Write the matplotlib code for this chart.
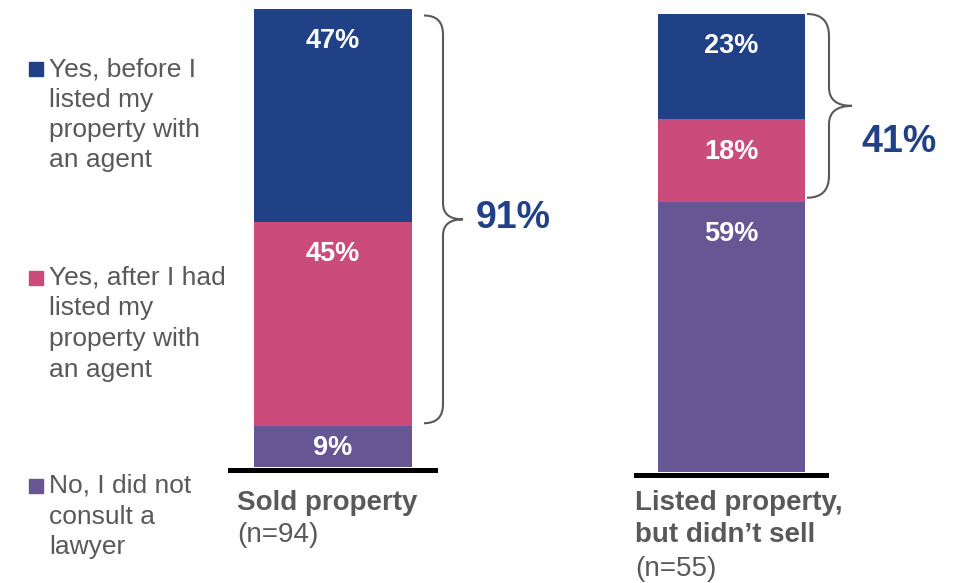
import matplotlib.pyplot as plt
from matplotlib.path import Path
from matplotlib.patches import PathPatch, Rectangle

plt.rcParams['font.family'] = ['Liberation Sans', 'DejaVu Sans']

# Survey shares (%) for each group
groups = [["Sold property"], ["Listed property,", "but didn\u2019t sell"]]
sample_sizes = ["(n=94)", "(n=55)"]
before_listing = [47, 23]
after_listing = [45, 18]
no_lawyer = [9, 59]
net_yes = [91, 41]

answer_labels = [
    ["Yes, before I", "listed my", "property with", "an agent"],
    ["Yes, after I had", "listed my", "property with", "an agent"],
    ["No, I did not", "consult a", "lawyer"],
]

BLUE = "#214187"
PINK = "#CB4C7A"
PURPLE = "#665794"
GREY = "#595959"

W, H = 955, 583
fig = plt.figure(figsize=(W / 100, H / 100), dpi=100)

# overlay in pixel units for legend, braces and captions
over = fig.add_axes([0, 0, 1, 1])
over.set_xlim(0, W)
over.set_ylim(H, 0)
over.axis('off')

# (left, right, baseline, px per %, bar width px)
layout = [(230, 435, 469.5, 4.53, 158), (636, 826, 474.5, 4.58, 147)]
ymax = 102

bar_axes = []
for i, (left, right, base, scale, bar_px) in enumerate(layout):
    height_px = (ymax + 0.55) * scale
    ax = fig.add_axes([left / W, (H - base) / H, (right - left) / W, height_px / H])
    half = (right - left) / bar_px / 2
    ax.set_xlim(-half, half)
    ax.set_ylim(-0.55, ymax)
    bottom = 0
    for values, color in [(no_lawyer, PURPLE), (after_listing, PINK), (before_listing, BLUE)]:
        v = values[i]
        ax.bar(0, v, width=1.0, bottom=bottom, color=color, clip_on=False)
        ylab = max(bottom + v - 6.4, bottom + v / 2 + 0.4)
        ax.text(0, ylab, f"{v}%", ha='center', va='center_baseline', color='white',
                fontsize=19.5, fontweight='bold')
        bottom += v
    for side in ['top', 'left', 'right']:
        ax.spines[side].set_visible(False)
    ax.spines['bottom'].set_linewidth(3.6)
    ax.spines['bottom'].set_color('black')
    ax.set_xticks([])
    ax.set_yticks([])
    ax.patch.set_alpha(0)
    bar_axes.append(ax)


def to_px(ax, y):
    return H - ax.transData.transform((0, y))[1]


def brace(x0, top, bot, w_end, w_tip):
    x1 = x0 + w_end
    x2 = x1 + w_tip
    mid = (top + bot) / 2
    r = w_end
    rt = w_tip * 0.8
    verts = [(x0, top), (x1, top), (x1, top + r),
             (x1, mid - rt), (x1, mid), (x2, mid),
             (x1, mid), (x1, mid + rt),
             (x1, bot - r), (x1, bot), (x0, bot)]
    codes = [Path.MOVETO, Path.CURVE3, Path.CURVE3,
             Path.LINETO, Path.CURVE3, Path.CURVE3,
             Path.CURVE3, Path.CURVE3,
             Path.LINETO, Path.CURVE3, Path.CURVE3]
    over.add_patch(PathPatch(Path(verts, codes), fill=False, edgecolor=GREY, lw=1.5))
    return x2, mid


# brace x start, end width, tip width, top/bottom inset, label offset
brace_style = [(424, 19, 20, (6, 3), (13, 9)), (807, 22, 23, (0, 4), (9, 46))]
for i, ax in enumerate(bar_axes):
    x0, we, wt, (t_in, b_in), (dx, dy) = brace_style[i]
    top = to_px(ax, no_lawyer[i] + after_listing[i] + before_listing[i]) + t_in
    bot = to_px(ax, no_lawyer[i]) - b_in
    tx, ty = brace(x0, top, bot, we, wt)
    over.text(tx + dx, ty + dy, f"{net_yes[i]}%", color=BLUE, fontsize=27,
              fontweight='bold', va='baseline', ha='left')

# legend
legend_colors = [BLUE, PINK, PURPLE]
legend_base = [76, 285, 493]
for lines, color, y0 in zip(answer_labels, legend_colors, legend_base):
    over.add_patch(Rectangle((29, y0 - 14), 14, 14, color=color))
    for k, line in enumerate(lines):
        over.text(49, y0 + k * 30.5, line, fontsize=19, color=GREY, va='baseline')

# group captions under each bar
caption_x = [237, 635]
for i, x in enumerate(caption_x):
    y = 509.5
    for line in groups[i]:
        over.text(x, y, line, fontsize=20, fontweight='bold', color=GREY, va='baseline')
        y += 33
    over.text(x, y, sample_sizes[i], fontsize=20, color=GREY, va='baseline')

fig.savefig('out.png', dpi=100)
